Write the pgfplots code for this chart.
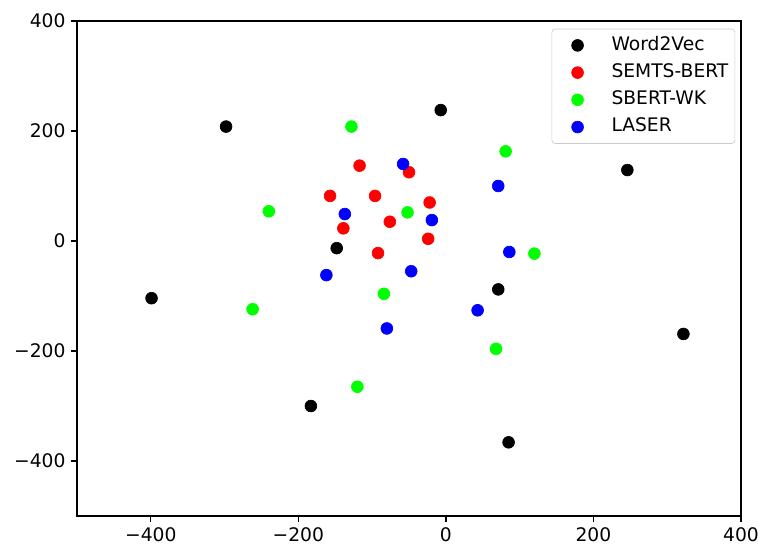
\documentclass[border=0pt]{standalone}
\usepackage{fontspec}
\setmainfont{DejaVu Sans}
\usepackage{pgfplots}
\pgfplotsset{compat=1.18}
\begin{document}
\begin{tikzpicture}
\begin{axis}[
  scale only axis, width=405pt, height=302pt,
  xmin=-500, xmax=400, ymin=-500, ymax=400,
  xtick={-400,-200,0,200,400}, ytick={-400,-200,0,200,400},
  xticklabels={−400,−200,0,200,400},
  yticklabels={−400,−200,0,200,400},
  tick align=outside, tick pos=left, major tick length=3.5pt,
  tick style={black, line width=0.8pt},
  axis line style={line width=0.8pt},
  ticklabel style={font=\fontsize{11.4}{13}\selectfont},
  legend style={at={(rel axis cs:1,1)}, anchor=north east,
    xshift=-3.7pt, yshift=-4.9pt, outer sep=0pt, draw=black!20,
    rounded corners=2pt, font=\fontsize{11.4}{13}\selectfont,
    nodes={inner sep=0pt, text height=8.5pt, text depth=2.5pt},
    column sep=0pt, row sep=5.6pt, inner xsep=4pt, inner ysep=4.5pt,
    cells={anchor=west}},
  legend cell align=left,
  every axis plot/.append style={only marks, mark=*, mark size=3.6pt,
    legend image code/.code={%
      \path (0pt,0pt) (32pt,0pt);
      \draw[##1] plot coordinates {(11.5pt,0pt)};}},
]
% Word2Vec
\addplot[black] coordinates {
  (-298,208) (-7,238) (246,129) (-148,-13) (-399,-104)
  (71,-88) (322,-169) (-183,-300) (85,-366)};
% SEMTS-BERT
\addplot[red] coordinates {
  (-117,137) (-50,125) (-157,82) (-96,82) (-76,35)
  (-139,23) (-92,-22) (-22,70) (-24,4)};
% SBERT-WK
\addplot[green] coordinates {
  (-128,208) (-240,54) (-52,52) (81,163) (120,-23)
  (-262,-124) (-84,-96) (-120,-265) (68,-196)};
% LASER
\addplot[blue] coordinates {
  (-58,140) (-137,49) (-162,-62) (-47,-55) (71,100)
  (-19,38) (86,-20) (-80,-159) (43,-126)};
\legend{Word2Vec,SEMTS-BERT,SBERT-WK,LASER}
\end{axis}
\pgfresetboundingbox
\path ([shift={(-47pt,-18.3pt)}]current axis.south west)
  rectangle ([shift={(10.4pt,12.8pt)}]current axis.north east);
\end{tikzpicture}
\end{document}
